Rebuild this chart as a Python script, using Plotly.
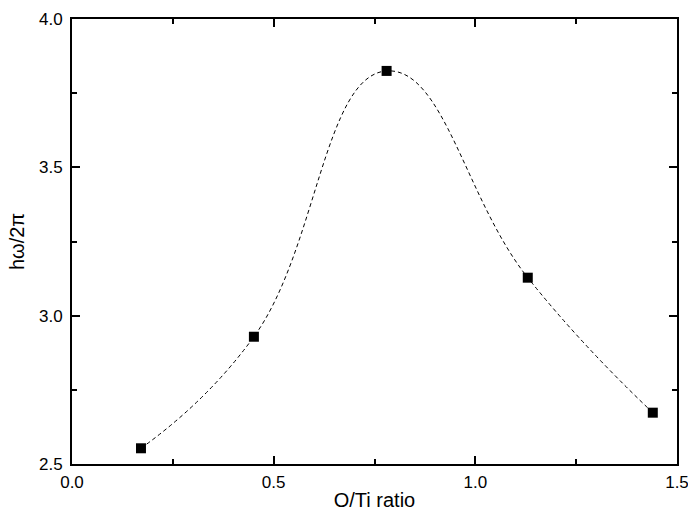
import plotly.graph_objects as go

ratio = [0.171, 0.451, 0.780, 1.130, 1.440]
energy = [2.553, 2.929, 3.825, 3.128, 2.673]
x_ticks = [0.0, 0.5, 1.0, 1.5]
y_ticks = [2.5, 3.0, 3.5, 4.0]

FONT = "Liberation Sans, Arial, sans-serif"

fig = go.Figure()
fig.add_trace(go.Scatter(
    x=ratio, y=energy, mode="lines",
    line=dict(shape="spline", smoothing=1.3, color="black", width=1, dash="4px,3px"),
    hoverinfo="skip", showlegend=False))
fig.add_trace(go.Scatter(
    x=ratio, y=energy, mode="markers",
    marker=dict(symbol="square", size=10, color="black"),
    showlegend=False))

axis_common = dict(
    showgrid=False, zeroline=False, showline=True, linecolor="black", linewidth=2,
    mirror="allticks", ticks="inside", ticklen=8, tickwidth=1.5, tickcolor="black",
    tickfont=dict(family=FONT, size=17, color="black"),
    minor=dict(ticks="inside", ticklen=5, tickwidth=1.5, tickcolor="black", showgrid=False),
    tickformat=".1f", automargin=False, ticklabeloverflow="allow",
)

fig.update_xaxes(range=[0, 1.5], tickvals=x_ticks, minor_dtick=0.25,
                 ticklabelstandoff=2,
                 title=dict(text="O/Ti ratio", standoff=2,
                            font=dict(family=FONT, size=20, color="black")),
                 **axis_common)
fig.update_yaxes(range=[2.5, 4.0], tickvals=y_ticks, minor_dtick=0.25,
                 ticklabelstandoff=4,
                 title=dict(text="hω/2π", standoff=9,
                            font=dict(family=FONT, size=20, color="black")),
                 **axis_common)

fig.update_layout(
    width=688, height=511,
    margin=dict(l=72, r=11, t=19, b=47),
    plot_bgcolor="white", paper_bgcolor="white",
)

fig.write_html("out.html", config={"displayModeBar": False},
               post_script="document.body.style.margin='0';document.body.style.overflow='hidden';")
